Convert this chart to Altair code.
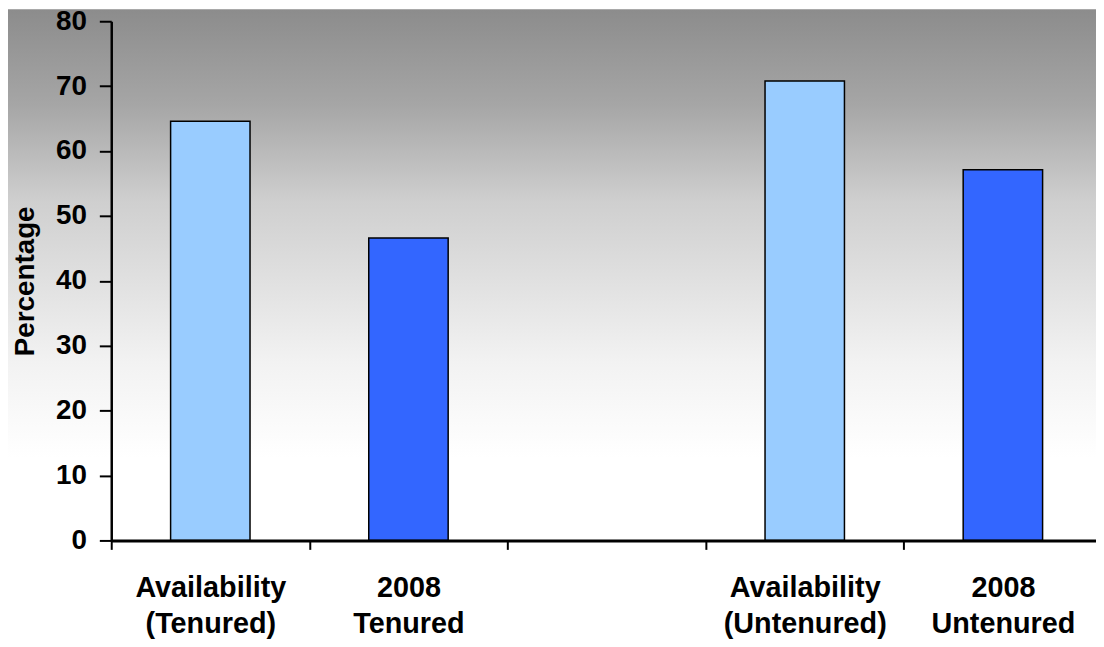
import altair as alt
import pandas as pd

# ---- data ----
categories = ["Availability|(Tenured)", "2008|Tenured", " ", "Availability|(Untenured)", "2008|Untenured"]
bar_categories = ["Availability|(Tenured)", "2008|Tenured", "Availability|(Untenured)", "2008|Untenured"]
bar_values = [64.6, 46.6, 70.8, 57.1]
bar_series = ["Availability", "2008", "Availability", "2008"]
series_names = ["Availability", "2008"]
series_colors = ["#99CCFF", "#3366FF"]
y_ticks = [0, 10, 20, 30, 40, 50, 60, 70, 80]

W, H = 990, 523
X_RANGE = 998
FONT = "Liberation Sans"

df = pd.DataFrame({"category": bar_categories, "value": bar_values, "series": bar_series})
bg_df = pd.DataFrame({"k": [0]})

gradient = alt.LinearGradient(
    gradient="linear",
    stops=[
        alt.GradientStop(color="#8c8c8c", offset=0.0),
        alt.GradientStop(color="#a6a6a6", offset=0.15),
        alt.GradientStop(color="#cfcfcf", offset=0.30),
        alt.GradientStop(color="#f2f2f2", offset=0.55),
        alt.GradientStop(color="#ffffff", offset=0.70),
        alt.GradientStop(color="#ffffff", offset=1.0),
    ],
    x1=0, x2=0, y1=0, y2=1,
)

background = alt.Chart(bg_df).mark_rect(color=gradient, strokeWidth=0).encode(
    x=alt.value(-110), x2=alt.value(W + 10),
    y=alt.value(-12), y2=alt.value(H + 110),
)

bars = alt.Chart(df).mark_bar(
    size=80, stroke="black", strokeWidth=1.5
).encode(
    x=alt.X(
        "category:N",
        scale=alt.Scale(domain=categories, range=[0, X_RANGE], paddingInner=0, paddingOuter=0),
        sort=categories,
        axis=alt.Axis(
            title=None,
            labelExpr="split(datum.label, '|')",
            labelAngle=0,
            labelFont=FONT,
            labelFontSize=29,
            labelFontWeight="bold",
            labelColor="black",
            labelPadding=24,
            labelLineHeight=37,
            tickBand="extent",
            tickSize=9,
            tickWidth=2,
            tickColor="black",
            domainColor="black",
            domainWidth=3,
            zindex=1,
        ),
    ),
    y=alt.Y(
        "value:Q",
        scale=alt.Scale(domain=[0, 80], nice=False),
        axis=alt.Axis(
            title="Percentage",
            values=y_ticks,
            titleFont=FONT,
            titleFontSize=28,
            titleFontWeight="bold",
            titleColor="black",
            titlePadding=16,
            labelFont=FONT,
            labelFontSize=28,
            labelFontWeight="bold",
            labelColor="black",
            labelPadding=13,
            tickSize=12,
            tickWidth=2,
            tickColor="black",
            domainColor="black",
            domainWidth=2.5,
            grid=False,
            zindex=1,
        ),
    ),
    color=alt.Color(
        "series:N",
        scale=alt.Scale(domain=series_names, range=series_colors),
        legend=None,
    ),
)

chart = alt.layer(background, bars).properties(
    width=W,
    height=H,
    autosize=alt.AutoSizeParams(type="none"),
    padding={"left": 104, "top": 11, "right": 2, "bottom": 104},
).configure_view(stroke=None)

chart.save("out.html", embed_options={"renderer": "svg", "actions": False})
